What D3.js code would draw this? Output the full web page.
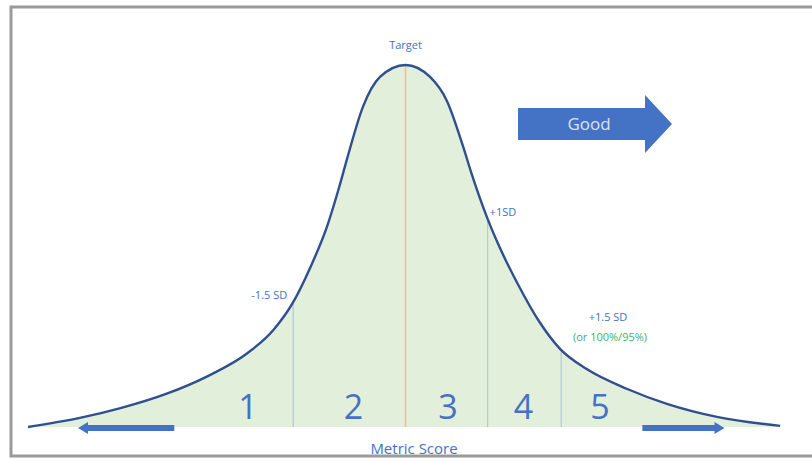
<!DOCTYPE html>
<html>
<head>
<meta charset="utf-8">
<script src="https://cdn.jsdelivr.net/npm/d3@7"></script>
<style>
  body { margin: 0; background: #fff; }
  .chart text { font-family: "Liberation Sans Narrow", "Open Sans", sans-serif; }
</style>
</head>
<body>
<div class="chart"></div>
<script>
// curve (score in arbitrary SD-ish units, density relative to peak)
const curveX = [-4.00, -3.45, -3.02, -2.53, -2.10, -1.68, -1.40, -1.19, -1.01, -0.83, -0.70, -0.62, -0.45, -0.27, 0.00,
                0.26, 0.44, 0.61, 0.70, 0.87, 1.00, 1.18, 1.42, 1.64, 1.92, 2.35, 2.77, 3.30, 3.97];
const curveY = [0.000, 0.025, 0.052, 0.092, 0.140, 0.203, 0.268, 0.345, 0.440, 0.555, 0.665, 0.740, 0.885, 0.967, 1.000,
                0.967, 0.900, 0.775, 0.700, 0.575, 0.495, 0.400, 0.290, 0.215, 0.160, 0.105, 0.064, 0.028, 0.003];

const markerNames = ["-1.5 SD", "Target", "+1SD", "+1.5 SD"];
const markerX = [-1.19, 0, 0.87, 1.65];
const markerY = [0.345, 1.0, 0.575, 0.212];

const zoneNames = ["1", "2", "3", "4", "5"];
const zoneX = [-1.67, -0.55, 0.45, 1.25, 2.06];

const width = 812, height = 459;

const x = d3.scaleLinear().domain([-4, 4]).range([28, 783]);
const y = d3.scaleLinear().domain([0, 1]).range([427, 65]);

const data = curveX.map((d, i) => ({ x: d, y: curveY[i] }));

const svg = d3.select(".chart")
    .append("svg")
    .attr("width", width)
    .attr("height", height);

// frame
svg.append("rect")
    .attr("x", 11).attr("y", 7)
    .attr("width", 820).attr("height", 449)
    .attr("fill", "none")
    .attr("stroke", "#9a9a9a")
    .attr("stroke-width", 3);

svg.append("path")
    .datum(data)
    .attr("fill", "#e2efda")
    .attr("d", d3.area().x(d => x(d.x)).y0(y(0)).y1(d => y(d.y)).curve(d3.curveMonotoneX));

// separators
svg.selectAll(".sep")
    .data(markerX)
    .enter()
    .append("line")
    .attr("x1", d => x(d)).attr("x2", d => x(d))
    .attr("y1", (d, i) => y(markerY[i]))
    .attr("y2", y(0))
    .attr("stroke", (d, i) => i == 1 ? "#f0bca6" : "#b4c7d6")
    .attr("stroke-width", (d, i) => i == 1 ? 1.6 : 1.2);

svg.append("path")
    .datum(data)
    .attr("fill", "none")
    .attr("stroke", "#2f4f8f")
    .attr("stroke-width", 2.4)
    .attr("d", d3.line().x(d => x(d.x)).y(d => y(d.y)).curve(d3.curveMonotoneX));

// zone numbers
svg.selectAll(".zone")
    .data(zoneNames)
    .enter()
    .append("text")
    .attr("x", (d, i) => x(zoneX[i]))
    .attr("y", 419)
    .attr("text-anchor", "middle")
    .attr("fill", "#4472c4")
    .style("font-family", "'Open Sans', sans-serif")
    .attr("font-size", 34)
    .text(d => d);

// marker labels
const lab = svg.append("g").attr("fill", "#4472c4").attr("font-size", 11);
lab.append("text").attr("x", x(markerX[0]) - 6).attr("y", 299).attr("text-anchor", "end").text(markerNames[0]);
lab.append("text").attr("x", x(markerX[1])).attr("y", 49).attr("text-anchor", "middle").text(markerNames[1]);
lab.append("text").attr("x", x(markerX[2]) + 2).attr("y", 216).text(markerNames[2]);
lab.append("text").attr("x", 608).attr("y", 321).attr("text-anchor", "middle").text(markerNames[3]);
svg.append("text").attr("x", 610).attr("y", 341).attr("text-anchor", "middle")
    .attr("fill", "#3cb16a").attr("font-size", 11).text("(or 100%/95%)");

svg.append("text")
    .attr("x", 414).attr("y", 454)
    .attr("text-anchor", "middle")
    .attr("fill", "#4472c4")
    .attr("font-size", 15)
    .text("Metric Score");

// bottom arrows
const arrow = (x0, x1, yy) => {
  const dir = x1 > x0 ? 1 : -1;
  svg.append("line")
    .attr("x1", x0).attr("x2", x1 - dir * 6)
    .attr("y1", yy).attr("y2", yy)
    .attr("stroke", "#4472c4").attr("stroke-width", 6);
  svg.append("path")
    .attr("d", `M${x1},${yy} L${x1 - dir * 10},${yy - 6} L${x1 - dir * 10},${yy + 6} Z`)
    .attr("fill", "#4472c4");
};
arrow(x(-2.45), x(-3.47), 428);
arrow(x(2.51), x(3.38), 428);

// "Good" arrow
svg.append("path")
    .attr("d", "M518,108 L645,108 L645,95 L672,124 L645,153 L645,140 L518,140 Z")
    .attr("fill", "#4472c4");
svg.append("text")
    .attr("x", 589).attr("y", 130)
    .attr("text-anchor", "middle")
    .attr("fill", "#dde4ee")
    .attr("font-size", 17)
    .text("Good");
</script>
</body>
</html>
